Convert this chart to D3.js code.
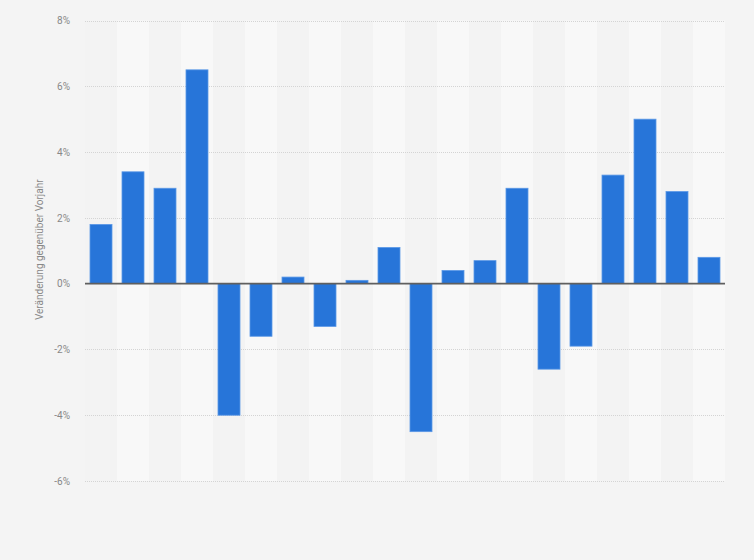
<!DOCTYPE html>
<html><head><meta charset="utf-8">
<script src="https://cdn.jsdelivr.net/npm/d3@7/dist/d3.min.js"></script>
<style>body{margin:0;background:#f4f4f4;}svg{display:block;}</style>
</head><body>
<script>
const categories = ["1","2","3","4","5","6","7","8","9","10","11","12","13","14","15","16","17","18","19","20"];
const values = [1.8, 3.4, 2.9, 6.5, -4.0, -1.6, 0.2, -1.3, 0.1, 1.1, -4.5, 0.4, 0.7, 2.9, -2.6, -1.9, 3.3, 5.0, 2.8, 0.8];
const yTicks = [-6, -4, -2, 0, 2, 4, 6, 8];
const yLabel = "Veränderung gegenüber Vorjahr";

const W = 754, H = 560;
const m = {left: 85, right: 29, top: 20.5, bottom: 79};
const svg = d3.select("body").append("svg").attr("width", W).attr("height", H);
svg.append("rect").attr("width", W).attr("height", H).attr("fill", "#f4f4f4");

const x = d3.scaleBand().domain(categories).range([m.left, W - m.right]).paddingInner(0.3125).paddingOuter(0.15625);
const xs = d3.scaleBand().domain(categories).range([m.left, W - m.right]);
const y = d3.scaleLinear().domain([-6, 8]).range([H - m.bottom, m.top]);

// stripes
svg.append("g").selectAll("rect").data(categories).join("rect")
  .attr("x", d => xs(d)).attr("width", xs.bandwidth())
  .attr("y", y(8)).attr("height", y(-6) - y(8))
  .attr("fill", (d, i) => i % 2 ? "#f8f8f8" : "#f3f3f3");

// grid
svg.append("g").selectAll("line").data(yTicks.filter(t => t !== 0)).join("line")
  .attr("x1", m.left).attr("x2", W - m.right)
  .attr("y1", d => Math.round(y(d)) + 0.5).attr("y2", d => Math.round(y(d)) + 0.5)
  .attr("stroke", "#d4d4d4").attr("stroke-width", 1).attr("stroke-dasharray", "1,1");

// y axis labels
const yAxis = d3.axisLeft(y).tickValues(yTicks).tickFormat(d => d + "%").tickSize(0).tickPadding(0);
const ga = svg.append("g").attr("transform", `translate(70,0)`).call(yAxis);
ga.select(".domain").remove();
ga.selectAll("text").attr("fill", "#888").attr("font-family", "Roboto, 'Open Sans', sans-serif").attr("font-size", 10);

// bars
svg.append("g").selectAll("rect").data(values).join("rect")
  .attr("x", (d, i) => x(categories[i]))
  .attr("width", x.bandwidth())
  .attr("y", d => y(Math.max(0, d)))
  .attr("height", d => Math.abs(y(d) - y(0)))
  .attr("fill", "#2775d9")
  .attr("stroke", "#5b98e6").attr("stroke-width", 0.8);

// zero line
svg.append("line").attr("x1", m.left).attr("x2", W - m.right)
  .attr("y1", y(0)).attr("y2", y(0)).attr("stroke", "#5f5f5f").attr("stroke-width", 1.6);

// y label
svg.append("text").attr("transform", `translate(43,${(y(8)+y(-6))/2 - 1}) rotate(-90)`)
  .attr("text-anchor", "middle").attr("fill", "#888")
  .attr("font-family", "Roboto, 'Open Sans', sans-serif").attr("font-size", 10).text(yLabel);
</script>
</body></html>
